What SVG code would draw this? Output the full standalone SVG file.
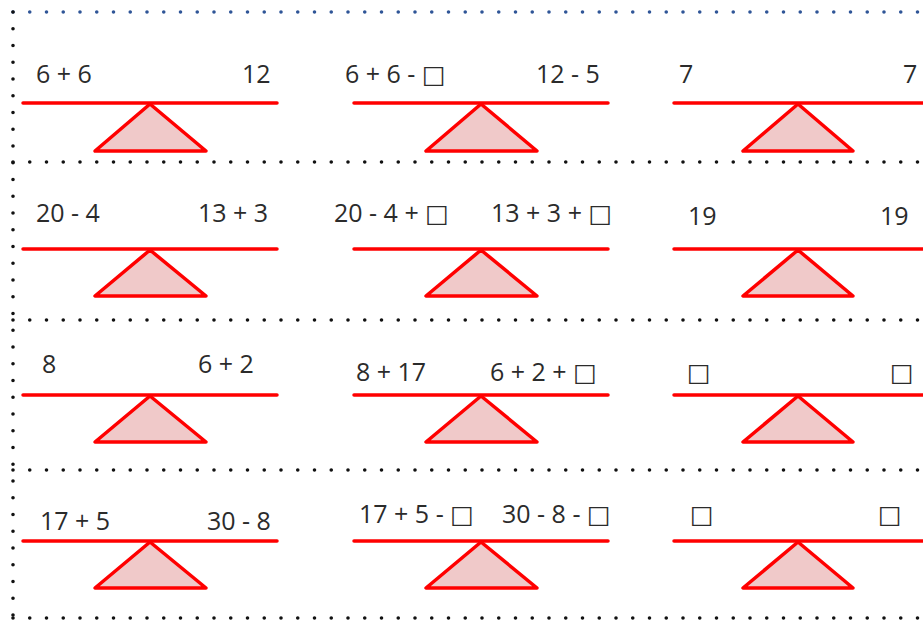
<svg xmlns="http://www.w3.org/2000/svg" width="923" height="620" viewBox="0 0 923 620">
<style>
.bg{fill:#ffffff}
.dot{fill:none;stroke:#111;stroke-width:3.6;stroke-dasharray:0 16.75;stroke-linecap:round}
.dotb{fill:none;stroke:#2f5597;stroke-width:3.6;stroke-dasharray:0 16.75;stroke-linecap:round}
.beam{stroke:#ff0000;stroke-width:3.5;stroke-linecap:round}
.tri{fill:#f0c9c9;stroke:#ff0000;stroke-width:3.5;stroke-linejoin:round}
.t{font-family:"Open Sans","DejaVu Sans",sans-serif;font-size:25px;fill:#2b2b2b}
</style>
<rect class="bg" x="0" y="0" width="923" height="620"/>
<g id="grid">
<line class="dotb" x1="13" y1="12" x2="923" y2="12"/>
<line class="dot" x1="13" y1="12" x2="13" y2="618"/>
<line class="dot" x1="13" y1="162" x2="923" y2="162"/>
<line class="dot" x1="13" y1="320" x2="923" y2="320"/>
<line class="dot" x1="13" y1="470" x2="923" y2="470"/>
<line class="dot" x1="13" y1="618" x2="923" y2="618"/>
</g>
<g id="r1c1"><line class="beam" x1="23" y1="103" x2="277" y2="103"/><polygon class="tri" points="150,104 95,151 206,151"/><text class="t" x="36" y="83">6 + 6</text><text class="t" x="242" y="83">12</text></g>
<g id="r1c2"><line class="beam" x1="354" y1="103" x2="608" y2="103"/><polygon class="tri" points="481,104 426,151 537,151"/><text class="t" x="345" y="83">6 + 6 - □</text><text class="t" x="536" y="83">12 - 5</text></g>
<g id="r1c3"><line class="beam" x1="674" y1="103" x2="925" y2="103"/><polygon class="tri" points="798,104 743,151 853,151"/><text class="t" x="679" y="83">7</text><text class="t" x="903" y="83">7</text></g>
<g id="r2c1"><line class="beam" x1="23" y1="249" x2="277" y2="249"/><polygon class="tri" points="150,250 95,296 206,296"/><text class="t" x="36" y="222">20 - 4</text><text class="t" x="198" y="222">13 + 3</text></g>
<g id="r2c2"><line class="beam" x1="354" y1="249" x2="608" y2="249"/><polygon class="tri" points="481,250 426,296 537,296"/><text class="t" x="334" y="222">20 - 4 + □</text><text class="t" x="491" y="222">13 + 3 + □</text></g>
<g id="r2c3"><line class="beam" x1="674" y1="249" x2="925" y2="249"/><polygon class="tri" points="798,250 743,296 853,296"/><text class="t" x="688" y="225">19</text><text class="t" x="880" y="225">19</text></g>
<g id="r3c1"><line class="beam" x1="23" y1="395" x2="277" y2="395"/><polygon class="tri" points="150,396 95,442 206,442"/><text class="t" x="42" y="373">8</text><text class="t" x="198" y="373">6 + 2</text></g>
<g id="r3c2"><line class="beam" x1="354" y1="395" x2="608" y2="395"/><polygon class="tri" points="481,396 426,442 537,442"/><text class="t" x="356" y="381">8 + 17</text><text class="t" x="490" y="381">6 + 2 + □</text></g>
<g id="r3c3"><line class="beam" x1="674" y1="395" x2="925" y2="395"/><polygon class="tri" points="798,396 743,442 853,442"/><text class="t" x="687" y="381">□</text><text class="t" x="890" y="381">□</text></g>
<g id="r4c1"><line class="beam" x1="23" y1="541" x2="277" y2="541"/><polygon class="tri" points="150,542 95,588 206,588"/><text class="t" x="40" y="530">17 + 5</text><text class="t" x="207" y="530">30 - 8</text></g>
<g id="r4c2"><line class="beam" x1="354" y1="541" x2="608" y2="541"/><polygon class="tri" points="481,542 426,588 537,588"/><text class="t" x="359" y="523">17 + 5 - □</text><text class="t" x="502" y="523">30 - 8 - □</text></g>
<g id="r4c3"><line class="beam" x1="674" y1="541" x2="925" y2="541"/><polygon class="tri" points="798,542 743,588 853,588"/><text class="t" x="690" y="523">□</text><text class="t" x="878" y="523">□</text></g>
</svg>
